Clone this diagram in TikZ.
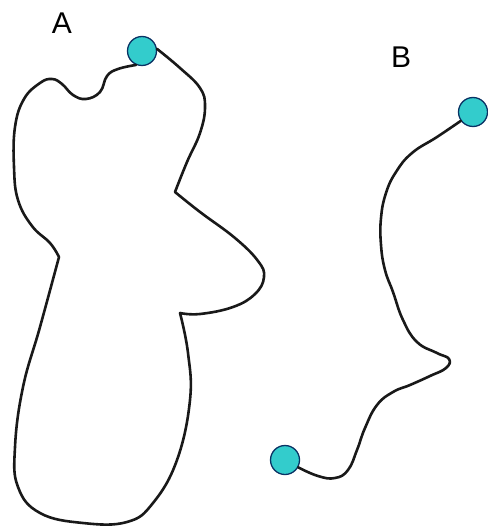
\documentclass[tikz,border=0pt]{standalone}
\usepackage{fontspec}
\setmainfont{Liberation Sans}
\definecolor{dotfill}{RGB}{51,204,204}
\definecolor{dotline}{RGB}{10,50,100}
\definecolor{curvecol}{RGB}{25,25,25}
\begin{document}
\begin{tikzpicture}[x=1pt,y=-1pt,
  endpt/.style={circle,draw=dotline,fill=dotfill,line width=1.3pt,minimum size=29pt,inner sep=0pt},
  curve/.style={draw=curvecol,line width=2.6pt,line join=round,line cap=round},
  lbl/.style={font=\fontsize{30}{36}\selectfont,inner sep=0pt}]
\useasboundingbox (0,0) rectangle (487,529);
\fill[white] (0,0) rectangle (487,529);
\node[lbl] (la) at (62,23) {A};
\node[lbl] (lb) at (401,57) {B};
\node[endpt] (ca) at (142,51) {};
\node[endpt] (cb1) at (473,112) {};
\node[endpt] (cb2) at (285,460) {};
% curve A
\draw[curve] plot[smooth,tension=0.7] coordinates {(ca.-113) (118,69) (107,76) (100,92) (86,99) (73,95) (62,84) (52,79) (40,83) (24,99) (15,127) (14,167) (18,200) (32,226) (50,243) (59,257)}
  -- plot[smooth,tension=0.7] coordinates {(59,257) (40,327) (23,387) (15,447) (18,487) (40,513) (83,523) (127,522) (153,503) (177,460) (190,400) (188,353) (180,313)}
  -- plot[smooth,tension=0.7] coordinates {(180,313) (200,314) (233,307) (255,294) (264,277) (258,261) (235,238) (200,212) (175,192)}
  -- plot[smooth,tension=0.7] coordinates {(175,192) (187,162) (200,133) (205,107) (200,88) (180,68) (ca.8)};
% curve B
\draw[curve] plot[smooth,tension=0.75] coordinates {(cb1.-144) (437,137) (412,153) (396,172) (386,193) (381,218) (381,245) (385,270) (393,292) (403,320) (417,342) (437,353) (449,359) (446,368) (430,376) (410,385) (393,392) (377,405) (365,428) (357,450) (348,470) (335,478) (318,476) (cb2.-29)};
\end{tikzpicture}
\end{document}
